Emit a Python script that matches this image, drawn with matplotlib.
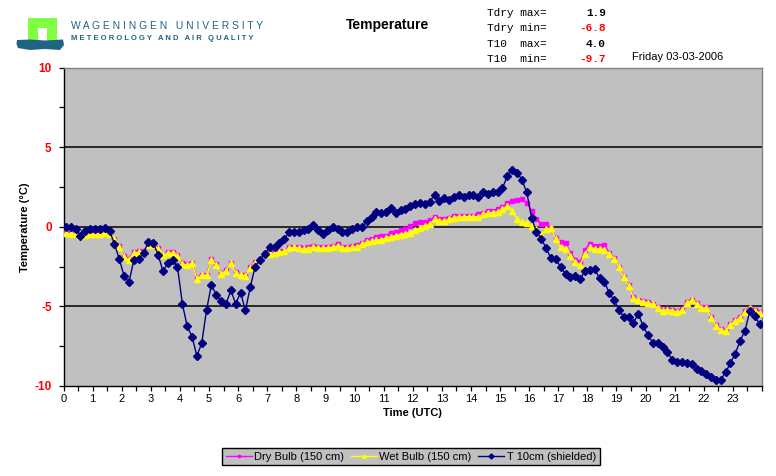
import numpy as np
import matplotlib
matplotlib.use("Agg")
import matplotlib.pyplot as plt
from matplotlib.patches import Rectangle, Polygon

plt.rcParams["axes.unicode_minus"] = False

# ---- data (10-minute values, centre of interval) ----
hours_per_step = 1.0 / 6.0
t10 = [0.0, 0.0, -0.17, -0.6, -0.28, -0.13, -0.13, -0.13, -0.08, -0.25,
       -1.08, -2.03, -3.1, -3.47, -2.1, -2.05, -1.65, -0.95, -1.02, -1.76,
       -2.78, -2.29, -2.1, -2.52, -4.83, -6.25, -6.9, -8.11, -7.3, -5.21,
       -3.64, -4.3, -4.66, -4.83, -4.0, -4.83, -4.13, -5.25, -3.8, -2.5,
       -2.07, -1.71, -1.27, -1.27, -1.02, -0.8, -0.34, -0.34, -0.34, -0.21,
       -0.11, 0.13, -0.19, -0.44, -0.23, -0.04, -0.15, -0.36, -0.36, -0.17,
       -0.04, -0.04, 0.34, 0.63, 0.91, 0.85, 0.93, 1.16, 0.89, 1.08,
       1.1, 1.29, 1.44, 1.48, 1.42, 1.57, 1.99, 1.61, 1.82, 1.69,
       1.84, 1.97, 1.84, 1.99, 1.99, 1.84, 2.16, 2.05, 2.16, 2.16,
       2.42, 3.2, 3.58, 3.39, 2.96, 2.16, 0.57, -0.34, -0.74, -1.35,
       -1.99, -2.03, -2.54, -2.96, -3.17, -3.11, -3.3, -2.77, -2.71, -2.65,
       -3.24, -3.45, -4.15, -4.61, -5.21, -5.67, -5.67, -6.03, -5.46, -6.24,
       -6.81, -7.28, -7.28, -7.58, -7.85, -8.38, -8.51, -8.51, -8.55, -8.61,
       -8.93, -9.06, -9.27, -9.44, -9.61, -9.61, -9.14, -8.55, -7.96, -7.15,
       -6.52, -5.29, -5.63, -6.1]
dry = [-0.35, -0.4, -0.35, -0.5, -0.45, -0.4, -0.4, -0.4, -0.35, -0.4,
       -0.75, -1.2, -1.85, -2.0, -1.6, -1.55, -1.55, -1.1, -1.1, -1.35,
       -1.75, -1.6, -1.6, -1.8, -2.3, -2.35, -2.25, -3.2, -3.0, -3.0,
       -2.05, -2.35, -2.9, -2.7, -2.25, -2.85, -3.0, -3.05, -2.55, -2.2,
       -2.0, -1.65, -1.65, -1.6, -1.55, -1.5, -1.3, -1.25, -1.3, -1.35,
       -1.3, -1.2, -1.3, -1.3, -1.25, -1.2, -1.1, -1.25, -1.25, -1.2,
       -1.15, -1.0, -0.85, -0.75, -0.65, -0.6, -0.55, -0.38, -0.35, -0.21,
       -0.15, 0.04, 0.21, 0.3, 0.3, 0.42, 0.63, 0.51, 0.47, 0.57,
       0.68, 0.68, 0.68, 0.68, 0.68, 0.78, 0.89, 0.99, 0.99, 1.1,
       1.25, 1.5, 1.6, 1.65, 1.72, 1.52, 0.99, 0.5, 0.15, 0.15,
       -0.1, -0.7, -0.97, -1.02, -1.65, -2.07, -2.24, -1.46, -1.06, -1.19,
       -1.2, -1.12, -1.65, -1.97, -2.5, -3.13, -3.66, -4.4, -4.57, -4.66,
       -4.72, -4.83, -5.04, -5.21, -5.14, -5.21, -5.29, -5.19, -4.72, -4.57,
       -4.78, -5.04, -5.04, -5.67, -6.2, -6.41, -6.52, -6.1, -5.84, -5.67,
       -5.29, -5.08, -5.21, -5.36]
wet = [-0.4, -0.45, -0.4, -0.55, -0.5, -0.45, -0.45, -0.45, -0.4, -0.45,
       -0.8, -1.25, -1.9, -2.07, -1.65, -1.6, -1.6, -1.15, -1.15, -1.4,
       -1.8, -1.65, -1.65, -1.85, -2.35, -2.4, -2.3, -3.25, -3.05, -3.05,
       -2.1, -2.4, -2.95, -2.75, -2.3, -2.9, -3.05, -3.1, -2.6, -2.25,
       -2.05, -1.7, -1.7, -1.65, -1.6, -1.55, -1.35, -1.3, -1.35, -1.4,
       -1.38, -1.25, -1.35, -1.35, -1.33, -1.28, -1.2, -1.33, -1.33, -1.3,
       -1.25, -1.1, -0.97, -0.91, -0.85, -0.82, -0.7, -0.63, -0.58, -0.49,
       -0.47, -0.38, -0.23, -0.06, 0.04, 0.15, 0.47, 0.36, 0.36, 0.47,
       0.57, 0.63, 0.63, 0.63, 0.63, 0.63, 0.78, 0.85, 0.89, 0.95,
       1.1, 1.31, 0.99, 0.47, 0.3, 0.25, 0.04, -0.17, -0.49, -0.17,
       -0.06, -0.8, -1.27, -1.4, -1.82, -2.24, -2.4, -1.7, -1.27, -1.4,
       -1.4, -1.44, -1.7, -2.0, -2.55, -3.18, -3.7, -4.45, -4.62, -4.7,
       -4.77, -4.88, -5.1, -5.27, -5.2, -5.27, -5.35, -5.25, -4.78, -4.62,
       -4.83, -5.1, -5.1, -5.72, -6.25, -6.46, -6.57, -6.15, -5.9, -5.72,
       -5.35, -5.13, -5.27, -5.42]
hour_labels = [str(h) for h in range(24)]
series_names = ["Dry Bulb (150 cm)", "Wet Bulb (150 cm)", "T 10cm (shielded)"]
stat_names = ["Tdry max=", "Tdry min=", "T10  max=", "T10  min="]
stat_values = ["1.9", "-6.8", "4.0", "-9.7"]
date_text = "Friday 03-03-2006"

time = (np.arange(len(t10)) + 0.5) * hours_per_step

W, H = 776, 476
fig = plt.figure(figsize=(W / 100, H / 100), dpi=100)
fig.patch.set_facecolor("white")

def fx(px):
    return px / W

def fy(py):
    return 1 - py / H

ax_l, ax_r, ax_t, ax_b = 63.5, 762, 67.5, 386
ax = fig.add_axes([fx(ax_l), fy(ax_b), fx(ax_r - ax_l), (ax_b - ax_t) / H])
ax.set_facecolor("#C0C0C0")

ax.plot(time, dry, color="#FF00FF", lw=1, marker="s", ms=2.8, mec="#FF00FF",
        mfc="#FF00FF", label=series_names[0], zorder=3)
ax.plot(time, wet, color="#FFFF00", lw=1, marker="^", ms=3.8, mec="#FFFF00",
        mfc="#FFFF00", label=series_names[1], zorder=4)
ax.plot(time, t10, color="#000080", lw=1, marker="D", ms=3.7, mec="#000080",
        mfc="#000080", label=series_names[2], zorder=5)

ax.set_xlim(0, 24)
ax.set_ylim(-10, 10)
ax.set_yticks([-10, -5, 0, 5, 10])
ax.set_yticks(np.arange(-10, 10.1, 2.5), minor=True)
ax.set_xticks(np.arange(24))
ax.set_xticklabels(hour_labels)
ax.set_xticks(np.arange(0, 24.01, 0.5), minor=True)
for yv in [-5, 0, 5]:
    ax.axhline(yv, color="black", lw=1.1, zorder=2)

ax.tick_params(axis="both", which="both", direction="out", length=3.5,
               width=0.9, color="black")
ax.tick_params(axis="x", which="major", labelsize=8, pad=2)
ax.tick_params(axis="y", which="major", labelsize=8.5, pad=5)
for lab in ax.get_yticklabels():
    lab.set_color("red")
    lab.set_fontweight("bold")
for lab in ax.get_xticklabels() + ax.get_yticklabels():
    lab.set_family("Liberation Sans")

for s in ["left", "bottom"]:
    ax.spines[s].set_color("black")
    ax.spines[s].set_linewidth(1)
for s in ["top", "right"]:
    ax.spines[s].set_color("#808080")
    ax.spines[s].set_linewidth(1)

ax.set_xlabel("Time (UTC)", fontsize=8, fontweight="bold",
              family="Liberation Sans", labelpad=3)
ax.set_ylabel("Temperature (°C)", fontsize=8, fontweight="bold",
              family="Liberation Sans", labelpad=3)

leg = fig.legend(loc="center", bbox_to_anchor=(fx(411), fy(456.5)), ncol=3,
                 frameon=True, fancybox=False, edgecolor="black",
                 facecolor="#C0C0C0", framealpha=1,
                 prop={"family": "Liberation Sans", "size": 8},
                 handlelength=2.3, handletextpad=0.25, columnspacing=0.6,
                 borderpad=0.35, borderaxespad=0, markerscale=0.7)
leg.get_frame().set_linewidth(1)

# ---- header ----
fig.text(fx(388), fy(25), "Temperature", fontsize=10, fontweight="bold",
         family="Liberation Sans", ha="center", va="center")
rows_y = [13, 28, 44, 59]
for i, (n, v) in enumerate(zip(stat_names, stat_values)):
    fig.text(fx(487), fy(rows_y[i]), n, fontsize=8, family="Liberation Mono",
             ha="left", va="center")
    fig.text(fx(606), fy(rows_y[i]), v, fontsize=8, family="Liberation Mono",
             fontweight="bold", ha="right", va="center",
             color="red" if v.startswith("-") else "black")
fig.text(fx(632), fy(57), date_text, fontsize=8, family="Liberation Sans",
         ha="left", va="center")

# logo
def rect(x0, y0, x1, y1, color):
    fig.patches.append(Rectangle((fx(x0), fy(y1)), fx(x1 - x0), (y1 - y0) / H,
                                 transform=fig.transFigure, color=color,
                                 lw=0, figure=fig))

rect(27.7, 17.7, 56.7, 41.7, "#80FF40")
rect(37.7, 27.7, 47.3, 41.7, "white")
wave = [(17, 40), (30, 39.5), (45, 40.5), (63, 39.5), (64, 45), (60, 50),
        (45, 49), (30, 50), (18, 48), (16.5, 44)]
fig.patches.append(Polygon([(fx(a), fy(b)) for a, b in wave], closed=True,
                           transform=fig.transFigure, color="#1F6482", lw=0,
                           figure=fig))
fig.text(fx(71), fy(26), "W A G E N I N G E N   U N I V E R S I T Y",
         fontsize=7.4, family="Liberation Sans", color="#1F6482",
         ha="left", va="center")
fig.text(fx(71), fy(38.5), "M E T E O R O L O G Y   A N D   A I R   Q U A L I T Y",
         fontsize=5.5, family="Liberation Sans", fontweight="bold",
         color="#1F6482", ha="left", va="center")

fig.savefig("out.png", dpi=100)
